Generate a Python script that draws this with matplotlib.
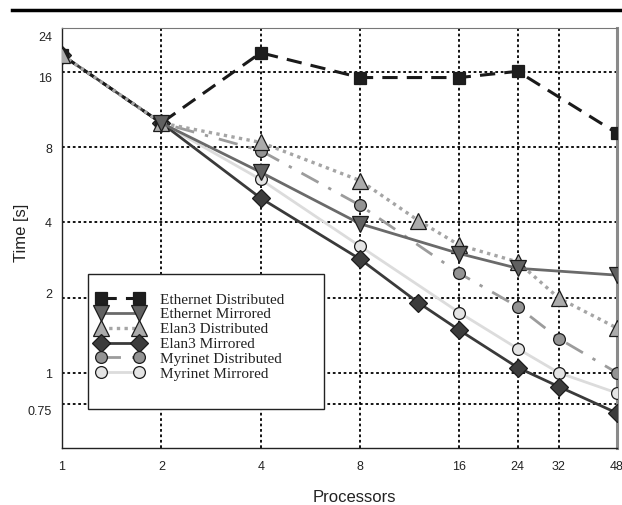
import matplotlib
matplotlib.use("Agg")
import matplotlib.pyplot as plt
import matplotlib.lines as mlines
import matplotlib.patches as mpatches
import matplotlib.transforms as mtransforms
from matplotlib.ticker import FixedLocator, FixedFormatter, NullLocator, NullFormatter

# processors on the x axis
procs = [1, 2, 4, 8, 16, 24, 32, 48]
procs_12 = [1, 2, 4, 8, 12, 16, 24, 32, 48]

eth_dist_x = [1, 2, 4, 8, 16, 24, 48]
eth_dist = [18.7, 10.0, 19.1, 15.2, 15.2, 16.1, 9.1]

eth_mirr_x = [2, 4, 8, 16, 24, 48]
eth_mirr = [10.0, 6.35, 3.95, 3.0, 2.62, 2.46]

elan_dist_x = procs_12
elan_dist = [18.7, 10.0, 8.36, 5.88, 4.07, 3.24, 2.78, 1.99, 1.51]

elan_mirr_x = procs_12
elan_mirr = [18.7, 10.0, 5.0, 2.85, 1.91, 1.48, 1.05, 0.88, 0.69]

myri_dist_x = procs
myri_dist = [18.7, 10.0, 7.75, 4.68, 2.5, 1.84, 1.37, 1.0]

myri_mirr_x = procs
myri_mirr = [18.7, 10.0, 5.94, 3.21, 1.74, 1.25, 1.0, 0.83]

xticks = [1, 2, 4, 8, 16, 24, 32, 48]
yticks = [0.75, 1, 2, 4, 8, 16, 24]
ytick_labels = ["0.75", "1", "2", "4", "8", "16", "24"]
# small vertical nudges (px, downwards) of the y labels as in the original
ytick_nudge = [8, 2, -3, 2, 3, 7, 10]
xgrid = [2, 4, 8, 16, 24, 32]
ygrid = [0.75, 1, 2, 4, 8, 16]

series = [
    ("Ethernet Distributed", eth_dist_x, eth_dist,
     dict(color="#1a1a1a", ls=(0, (5, 3)), lw=2.2, marker="s", ms=9, mfc="#1e1e1e", zorder=5)),
    ("Ethernet Mirrored", eth_mirr_x, eth_mirr,
     dict(color="#6a6a6a", ls="-", lw=2.0, marker="v", ms=11, mfc="#616161", zorder=7)),
    ("Elan3 Distributed", elan_dist_x, elan_dist,
     dict(color="#a5a5a5", ls=(0, (1, 1.3)), lw=2.4, marker="^", ms=11, mfc="#ababab", zorder=6)),
    ("Elan3 Mirrored", elan_mirr_x, elan_mirr,
     dict(color="#3a3a3a", ls="-", lw=2.0, marker="D", ms=9, mfc="#3c3c3c", zorder=4.5)),
    ("Myrinet Distributed", myri_dist_x, myri_dist,
     dict(color="#9c9c9c", ls=(0, (7, 4, 1.2, 4)), lw=2.0, marker="o", ms=8.5, mfc="#939393", zorder=4)),
    ("Myrinet Mirrored", myri_mirr_x, myri_mirr,
     dict(color="#dcdcdc", ls="-", lw=2.0, marker="o", ms=8.5, mfc="#e4e4e4", zorder=3)),
]

fig = plt.figure(figsize=(6.22, 5.05), dpi=100)
ax = fig.add_axes([62 / 622, 1 - 448 / 505, 555 / 622, 420 / 505])
ax.set_xscale("log")
ax.set_yscale("log")
ax.set_xlim(1, 48)
ax.set_ylim(0.5, 24)

handles = []
for label, xs, ys, st in series:
    line, = ax.plot(xs, ys, color=st["color"], linestyle=st["ls"], linewidth=st["lw"],
                    marker=st["marker"], markersize=st["ms"], markerfacecolor=st["mfc"],
                    markeredgecolor="#1c1c1c", markeredgewidth=0.9, zorder=st["zorder"],
                    label=label)
    handles.append(line)

for gx in xgrid:
    ax.axvline(gx, color="black", linestyle=(0, (1.5, 1.5)), linewidth=1.3, zorder=1)
for gy in ygrid:
    ax.axhline(gy, color="black", linestyle=(0, (1.5, 1.5)), linewidth=1.3, zorder=1)

ax.xaxis.set_major_locator(FixedLocator(xticks))
ax.xaxis.set_major_formatter(FixedFormatter([str(t) for t in xticks]))
ax.xaxis.set_minor_locator(NullLocator())
ax.yaxis.set_major_locator(FixedLocator(yticks))
ax.yaxis.set_major_formatter(NullFormatter())
ax.yaxis.set_minor_locator(NullLocator())
ax.tick_params(axis="x", length=0, pad=9, labelsize=9)
ax.tick_params(axis="y", length=0)
for lab in ax.get_xticklabels():
    lab.set_fontfamily("Liberation Sans")
    lab.set_color("#222222")

ytrans = mtransforms.blended_transform_factory(ax.transAxes, ax.transData)
for val, txt, dy in zip(yticks, ytick_labels, ytick_nudge):
    off = mtransforms.ScaledTranslation(-10 / 100, -dy / 100, fig.dpi_scale_trans)
    ax.text(0, val, txt, transform=ytrans + off, ha="right", va="center",
            fontfamily="Liberation Sans", fontsize=9, color="#222222")

ax.spines["left"].set_color("#222222")
ax.spines["bottom"].set_color("#222222")
ax.spines["left"].set_linewidth(1.0)
ax.spines["bottom"].set_linewidth(1.0)
ax.spines["top"].set_color("#777777")
ax.spines["top"].set_linewidth(0.8)
ax.spines["right"].set_color("#8a8a8a")
ax.spines["right"].set_linewidth(2.2)

ax.set_xlabel("Processors", fontfamily="Liberation Sans", fontsize=12, color="#222222")
ax.set_ylabel("Time [s]", fontfamily="Liberation Sans", fontsize=12, color="#222222")
ax.xaxis.set_label_coords(0.526, -0.1)
ax.yaxis.set_label_coords(-0.06, 0.512)

# legend box drawn as a plain rectangle, entries on top without frame
box = mpatches.Rectangle((88 / 622, 1 - 409 / 505), 236 / 622, 135 / 505,
                         transform=fig.transFigure, facecolor="white",
                         edgecolor="#222222", linewidth=1.0, zorder=8)
fig.patches.append(box)
leg = fig.legend(handles=handles, loc="upper left",
                 bbox_to_anchor=(96 / 622, 1 - 293 / 505), frameon=False,
                 numpoints=2, handlelength=3.1, handletextpad=1.1, labelspacing=0.07,
                 borderpad=0, borderaxespad=0,
                 prop={"family": "Liberation Serif", "size": 11})
leg.set_zorder(9)
for t in leg.get_texts():
    t.set_color("#222222")

fig.add_artist(mlines.Line2D([12 / 622, 1.0], [1 - 10 / 505, 1 - 10 / 505],
                             transform=fig.transFigure, color="black", linewidth=2.5))

fig.savefig("out.png", dpi=100)
